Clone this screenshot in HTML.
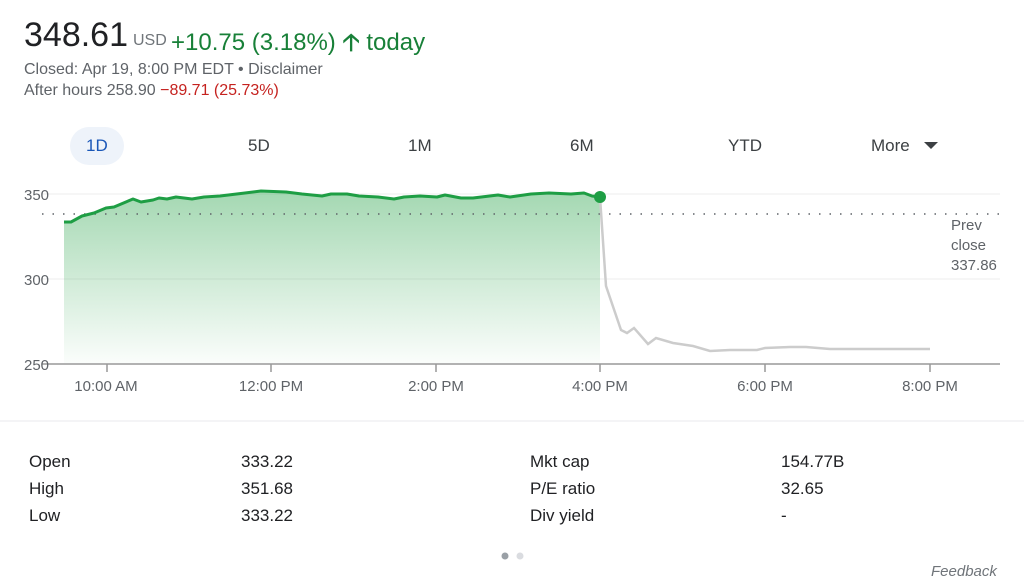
<!DOCTYPE html>
<html><head><meta charset="utf-8"><style>
body{margin:0;width:1024px;height:586px;background:#fff;font-family:"Liberation Sans",sans-serif;position:relative;overflow:hidden;color:#202124}
.a{position:absolute;white-space:nowrap}
.g{color:#188038}
.t{font-size:17px;color:#3c4043;top:136px}
.s{font-size:17px;color:#202124}
</style></head><body>
<div class="a" style="left:24px;top:16px;font-size:34px;color:#202124">348.61</div>
<div class="a" style="left:133px;top:32px;font-size:16px;color:#70757a">USD</div>
<div class="a g" style="left:171px;top:25px;font-size:24px">+10.75 (3.18%) <span style="font-weight:bold">&#129121;</span> today</div>
<div class="a" style="left:24px;top:61px;font-size:16px;color:#5f6368">Closed: Apr 19, 8:00 PM EDT • Disclaimer</div>
<div class="a" style="left:24px;top:82px;font-size:16px;color:#5f6368">After hours 258.90 <span style="color:#c5221f">−89.71 (25.73%)</span></div>
<div class="a" style="left:70px;top:127px;width:54px;height:38px;border-radius:19px;background:#eef3fa"></div>
<div class="a t" style="left:86px;color:#1a57b8">1D</div>
<div class="a t" style="left:248px">5D</div>
<div class="a t" style="left:408px">1M</div>
<div class="a t" style="left:570px">6M</div>
<div class="a t" style="left:728px">YTD</div>
<div class="a t" style="left:871px">More</div>
<div class="a" style="left:924px;top:142px;width:0;height:0;border-left:7px solid transparent;border-right:7px solid transparent;border-top:7px solid #3c4043"></div>
<svg class="a" style="left:0;top:0" width="1024" height="586">
<defs><linearGradient id="gr" x1="0" y1="0" x2="0" y2="1"><stop offset="0" stop-color="#34a853" stop-opacity=".45"/><stop offset="1" stop-color="#34a853" stop-opacity=".02"/></linearGradient></defs>
<line x1="42" y1="194" x2="1000" y2="194" stroke="#eee"/>
<line x1="42" y1="279" x2="1000" y2="279" stroke="#eee"/>
<polygon fill="url(#gr)" points="64,364 64,222 71,222 82,216 94,213 106,208 114,207 133,199 141,202 153,200 159,198 167,199 176,197 192,199 204,197 220,196 245,193 261,191 286,192 302,194 312,195 322,196 331,194 347,194 359,196 378,197 394,199 404,197 420,196 437,197 445,195 461,198 473,198 498,195 510,197 531,194 549,193 571,194 584,193 592,196 600,197 600,364"/>
<line x1="42" y1="214" x2="1000" y2="214" stroke="#5f6368" stroke-width="1.6" stroke-dasharray="1.5 9"/>
<polyline fill="none" stroke="#ccc" stroke-width="2.5" points="600,197 606,286 621,330 627,333 634,328 648,344 656,338 673,343 693,346 710,351 730,350 757,350 765,348 790,347 806,347 830,349 880,349 930,349"/>
<polyline fill="none" stroke="#1e9e44" stroke-width="3" stroke-linejoin="round" points="64,222 71,222 82,216 94,213 106,208 114,207 133,199 141,202 153,200 159,198 167,199 176,197 192,199 204,197 220,196 245,193 261,191 286,192 302,194 312,195 322,196 331,194 347,194 359,196 378,197 394,199 404,197 420,196 437,197 445,195 461,198 473,198 498,195 510,197 531,194 549,193 571,194 584,193 592,196 600,197"/>
<circle cx="600" cy="197" r="6" fill="#1e9e44"/>
<line x1="42" y1="364" x2="1000" y2="364" stroke="#999" stroke-width="1.5"/>
<g stroke="#999" stroke-width="1.5"><line x1="107" y1="364" x2="107" y2="372"/><line x1="271" y1="364" x2="271" y2="372"/><line x1="436" y1="364" x2="436" y2="372"/><line x1="600" y1="364" x2="600" y2="372"/><line x1="765" y1="364" x2="765" y2="372"/><line x1="930" y1="364" x2="930" y2="372"/></g>
<g font-family="Liberation Sans,sans-serif" font-size="15" fill="#5f6368">
<text x="24" y="200">350</text><text x="24" y="285">300</text><text x="24" y="370">250</text>
<g text-anchor="middle"><text x="106" y="391">10:00 AM</text><text x="271" y="391">12:00 PM</text><text x="436" y="391">2:00 PM</text><text x="600" y="391">4:00 PM</text><text x="765" y="391">6:00 PM</text><text x="930" y="391">8:00 PM</text></g>
<text x="951" y="230">Prev</text><text x="951" y="250">close</text><text x="951" y="270">337.86</text>
</g>
<line x1="0" y1="421" x2="1024" y2="421" stroke="#e8eaed"/>
<circle cx="505" cy="556" r="3.5" fill="#9aa0a6"/><circle cx="520" cy="556" r="3.5" fill="#dadce0"/>
</svg>
<div class="a s" style="left:29px;top:452px">Open</div><div class="a s" style="left:241px;top:452px">333.22</div>
<div class="a s" style="left:29px;top:479px">High</div><div class="a s" style="left:241px;top:479px">351.68</div>
<div class="a s" style="left:29px;top:506px">Low</div><div class="a s" style="left:241px;top:506px">333.22</div>
<div class="a s" style="left:530px;top:452px">Mkt cap</div><div class="a s" style="left:781px;top:452px">154.77B</div>
<div class="a s" style="left:530px;top:479px">P/E ratio</div><div class="a s" style="left:781px;top:479px">32.65</div>
<div class="a s" style="left:530px;top:506px">Div yield</div><div class="a s" style="left:781px;top:506px">-</div>
<div class="a" style="left:931px;top:563px;font-size:15px;font-style:italic;color:#70757a">Feedback</div>
</body></html>
